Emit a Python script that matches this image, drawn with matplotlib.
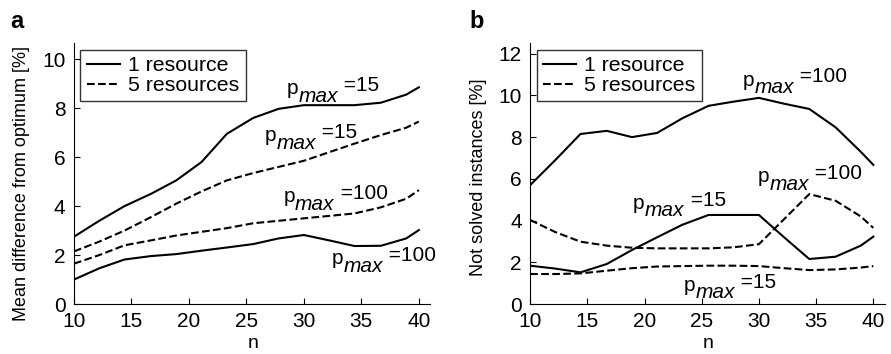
import matplotlib
matplotlib.use("Agg")
import matplotlib.pyplot as plt

plt.rcParams['font.family'] = ['Liberation Sans', 'DejaVu Sans']

# n values
n = [10, 12.2, 14.4, 16.7, 18.9, 21.1, 23.3, 25.6, 27.8, 30, 32.2, 34.4, 36.7, 38.9, 40]

# panel a: mean difference from optimum [%]
a_one_p15 = [2.75, 3.4, 4.0, 4.5, 5.05, 5.8, 6.95, 7.6, 7.97, 8.12, 8.12, 8.12, 8.22, 8.55, 8.85]
a_one_p100 = [1.0, 1.46, 1.82, 1.96, 2.04, 2.18, 2.31, 2.45, 2.68, 2.82, 2.6, 2.37, 2.38, 2.68, 3.02]
a_five_p15 = [2.15, 2.55, 3.0, 3.55, 4.1, 4.6, 5.05, 5.35, 5.6, 5.85, 6.2, 6.55, 6.9, 7.2, 7.45]
a_five_p100 = [1.65, 2.0, 2.4, 2.6, 2.8, 2.95, 3.1, 3.3, 3.4, 3.5, 3.6, 3.7, 3.95, 4.3, 4.65]

# panel b: not solved instances [%]
b_one_p100 = [5.7, 6.9, 8.15, 8.3, 8.0, 8.2, 8.9, 9.5, 9.7, 9.88, 9.6, 9.35, 8.47, 7.3, 6.67]
b_one_p15 = [1.84, 1.7, 1.52, 1.92, 2.59, 3.2, 3.8, 4.27, 4.27, 4.27, 3.2, 2.16, 2.27, 2.8, 3.23]
b_five_p100 = [4.03, 3.45, 2.99, 2.8, 2.7, 2.67, 2.67, 2.67, 2.72, 2.87, 4.07, 5.27, 4.95, 4.2, 3.65]
b_five_p15 = [1.44, 1.44, 1.47, 1.6, 1.72, 1.8, 1.82, 1.84, 1.84, 1.82, 1.72, 1.63, 1.66, 1.75, 1.82]

# p_max labels: value, x of the "p", y of its baseline (data units)
a_notes = [('15', 28.5, 8.57), ('15', 26.6, 6.66), ('100', 28.2, 4.15), ('100', 32.45, 1.63)]
b_notes = [('100', 28.6, 10.47), ('100', 29.9, 5.84), ('15', 19.0, 4.57), ('15', 23.4, 0.64)]

fs = 15


def style_axes(ax, ymax, yticks, ylabel, ylab_xy):
    ax.set_xlim(10, 41)
    ax.set_ylim(0, ymax)
    ax.set_xticks([10, 15, 20, 25, 30, 35, 40])
    ax.set_yticks(yticks)
    ax.spines['top'].set_visible(False)
    ax.spines['right'].set_visible(False)
    ax.tick_params(direction='in', length=4, width=0.8, labelsize=fs, pad=6)
    ax.set_xlabel('n', fontsize=fs - 1, va='top')
    ax.xaxis.set_label_coords(0.503, -0.12)
    ax.set_ylabel(ylabel, fontsize=13)
    ax.yaxis.set_label_coords(*ylab_xy)
    leg = ax.legend(loc='upper left', fontsize=fs + 0.3, handlelength=1.55,
                    handletextpad=0.4, borderpad=0.3, labelspacing=0.05,
                    fancybox=False, edgecolor='black', borderaxespad=0.3)
    leg.get_frame().set_linewidth(1.0)


def pmax_label(ax, val, x, y):
    # "p", then italic "max" dropped below, then "=val" slightly raised
    p = ax.text(x, y, 'p', fontsize=fs, ha='left', va='baseline')
    m = ax.annotate('max', xy=(1, 0), xycoords=p, xytext=(0.3, -5.5),
                    textcoords='offset points', fontsize=fs, style='italic',
                    ha='left', va='bottom')
    ax.annotate(' =' + val, xy=(1, 0), xycoords=m, xytext=(0, 7.8),
                textcoords='offset points', fontsize=fs,
                ha='left', va='bottom')


fig = plt.figure(figsize=(8.91, 3.54), dpi=100)
ax1 = fig.add_axes([0.083, 0.141, 0.400, 0.737])
ax2 = fig.add_axes([0.595, 0.141, 0.398, 0.737])

lw = 1.5
ax1.plot(n, a_one_p15, 'k-', lw=lw, label='1 resource')
ax1.plot(n, a_five_p15, 'k--', lw=lw, label='5 resources')
ax1.plot(n, a_one_p100, 'k-', lw=lw)
ax1.plot(n, a_five_p100, 'k--', lw=lw)
style_axes(ax1, 10.65, [0, 2, 4, 6, 8, 10], 'Mean difference from optimum [%]',
           (-0.124, 0.464))

ax2.plot(n, b_one_p100, 'k-', lw=lw, label='1 resource')
ax2.plot(n, b_five_p100, 'k--', lw=lw, label='5 resources')
ax2.plot(n, b_one_p15, 'k-', lw=lw)
ax2.plot(n, b_five_p15, 'k--', lw=lw)
style_axes(ax2, 12.5, [0, 2, 4, 6, 8, 10, 12], 'Not solved instances [%]',
           (-0.121, 0.485))

for ax, notes in [(ax1, a_notes), (ax2, b_notes)]:
    for val, x, y in notes:
        pmax_label(ax, val, x, y)

fig.text(0.012, 0.94, 'a', fontsize=17, fontweight='bold', va='center')
fig.text(0.527, 0.94, 'b', fontsize=17, fontweight='bold', va='center')

fig.savefig('out.png', dpi=100)
